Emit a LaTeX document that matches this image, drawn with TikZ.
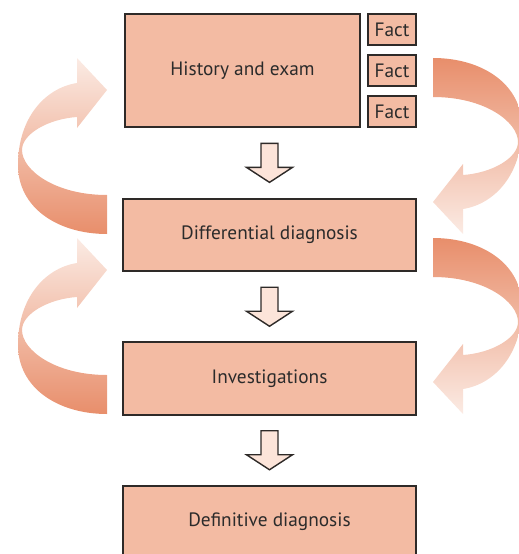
\documentclass[tikz,border=0pt]{standalone}
\usepackage{fontspec}
\setmainfont{PT Sans}
\usepackage{tikz}
\usetikzlibrary{calc}
\definecolor{salmon}{HTML}{F3BBA3}
\definecolor{boxline}{HTML}{2E2A28}
\definecolor{blush}{HTML}{FCE4D9}
\definecolor{loopdark}{HTML}{E88E6B}
\definecolor{looplight}{HTML}{FBEBE4}
\definecolor{inkgrey}{HTML}{2B2B2B}
\tikzset{
  stagebox/.style={draw=boxline, fill=salmon, line width=1pt, inner sep=0pt,
    minimum width=5.86cm, minimum height=1.45cm, text=inkgrey,
    font=\fontsize{11}{13}\selectfont},
  factbox/.style={stagebox, minimum width=0.96cm, minimum height=0.62cm},
  hollow/.style={draw=boxline, fill=blush, line width=0.8pt, line join=miter},
  looptone/.style={top color=looplight, bottom color=loopdark},
  % big open arrow between stages
  hollowdown/.pic={
    \path[hollow] (-8.5,-19.5) -- (8.5,-19.5) -- (8.5,4.5) -- (23,4.5) -- (0,19.5)
      -- (-23,4.5) -- (-8.5,4.5) -- cycle;
  },
  % curled ribbon going back up
  ribbon/.pic={
    \path[looptone]
      (107,234) .. controls (58,234) and (18,208) .. (18,165)
      .. controls (18,118) and (45,88) .. (77,83)
      -- (77,58) -- (107,90) -- (77,128) -- (77,117)
      .. controls (48,119) and (22,134) .. (22,150)
      .. controls (22,170) and (55,195) .. (107,195) -- cycle;
  },
}
\begin{document}
\begin{tikzpicture}[x=0.02cm, y=-0.02cm]
  \useasboundingbox (0,0) rectangle (518,554);

  % feedback ribbons
  \pic at (0,0) {ribbon};
  \pic at (0,180) {ribbon};
  \pic[rotate=180, looptone/.style={top color=loopdark, bottom color=looplight}] at (540,292) {ribbon};
  \pic[rotate=180, looptone/.style={top color=loopdark, bottom color=looplight}] at (540,472) {ribbon};

  % stages
  \node[stagebox, minimum width=4.7cm, minimum height=2.26cm] (hist) at (242.5,70.5) {History and exam};
  \node[factbox] (fact1) at (392,29.5) {Fact};
  \node[factbox] (fact2) at (392,70.5) {Fact};
  \node[factbox] (fact3) at (392,111.5) {Fact};
  \node[stagebox] (diff) at (269.5,235) {Differential diagnosis};
  \node[stagebox] (inv) at (269.5,378.5) {Investigations};
  \node[stagebox] (defn) at (269.5,522) {Definitive diagnosis};

  % open arrows
  \foreach \a/\b in {hist/diff, diff/inv, inv/defn} {
    \coordinate (\a-\b) at ($(\a.south -| \b.north)!0.5!(\b.north)$);
    \pic at (\a-\b) {hollowdown};
  }
\end{tikzpicture}
\end{document}
